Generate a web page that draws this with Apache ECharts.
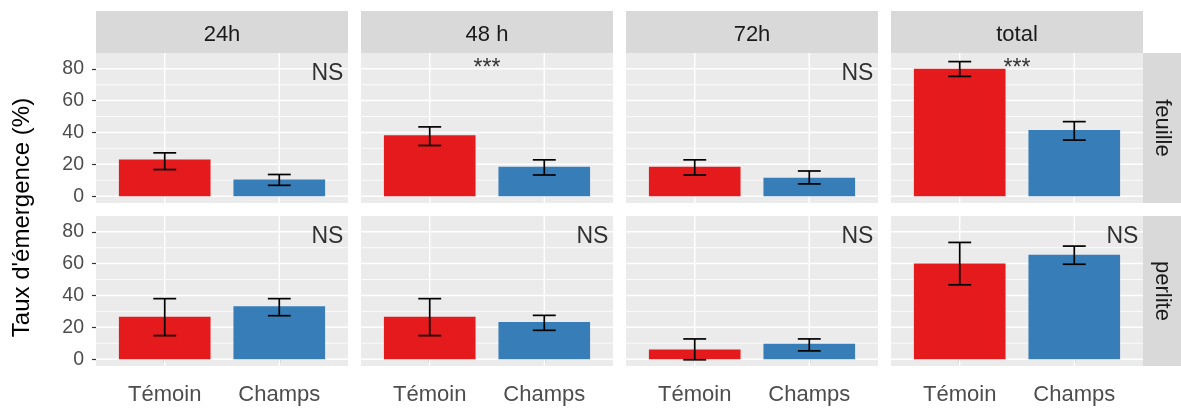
<!DOCTYPE html>
<html>
<head>
<meta charset="utf-8">
<script src="https://cdn.jsdelivr.net/npm/echarts@6/dist/echarts.min.js"></script>
<style>
  html, body { margin: 0; padding: 0; background: #ffffff; }
  #chart { width: 1181px; height: 409px; }
</style>
</head>
<body>
<div id="chart"></div>
<script>
// Facets: columns are periods, rows are substrates
const periods = ['24h', '48 h', '72h', 'total'];
const substrates = ['feuille', 'perlite'];
const treatments = ['Témoin', 'Champs'];

// Emergence rate (%) per period: [Témoin, Champs]
const feuilleMean = [[23.0, 10.5], [38.2, 18.5], [18.5, 11.5], [80.0, 41.5]];
const feuilleLow  = [[16.7, 6.8], [31.8, 13.3], [13.3, 7.7], [75.2, 35.2]];
const feuilleHigh = [[27.2, 13.6], [43.5, 22.8], [22.8, 15.8], [84.5, 46.8]];

const perliteMean = [[26.7, 33.3], [26.7, 23.3], [6.0, 9.6], [60.0, 65.6]];
const perliteLow  = [[14.8, 27.3], [14.8, 18.1], [-0.4, 5.2], [46.7, 59.6]];
const perliteHigh = [[38.0, 38.0], [38.0, 27.5], [12.7, 12.7], [73.3, 71.0]];

// Significance of the Témoin / Champs comparison
const feuilleSig = ['NS', '***', 'NS', '***'];
const perliteSig = ['NS', 'NS', 'NS', 'NS'];

const yTicks = [0, 20, 40, 60, 80];
const yMinor = [10, 30, 50, 70];
const xTicks = [1, 2];

const rows = [
  { mean: feuilleMean, low: feuilleLow, high: feuilleHigh, sig: feuilleSig },
  { mean: perliteMean, low: perliteLow, high: perliteHigh, sig: perliteSig }
];

// ---- layout ----
const FONT = '"Liberation Sans", Arial, sans-serif';
const PANEL_LEFT = 96, PANEL_W = 252, GAP_X = 13;
const PANEL_TOP = 53, PANEL_H = 150, GAP_Y = 13;
const STRIP_TOP = 11, STRIP_H = 42, STRIP_W = 38;
const X_MIN = 0.4, X_MAX = 2.6, Y_MIN = -4.3, Y_MAX = 89.9;
const BAR_W = 0.8 * PANEL_W / (X_MAX - X_MIN);
const COLORS = ['#E41A1C', '#377EB8'];

const colX = c => PANEL_LEFT + c * (PANEL_W + GAP_X);
const rowY = r => PANEL_TOP + r * (PANEL_H + GAP_Y);

const grids = [], xAxes = [], yAxes = [], series = [], graphics = [];

// panel background gridlines: [x, y, kind] kind 0 = major h, 1 = minor h, 2 = vertical
const gridLineData = [];
yTicks.forEach(v => gridLineData.push([1, v, 0]));
yMinor.forEach(v => gridLineData.push([1, v, 1]));
xTicks.forEach(v => gridLineData.push([v, 0, 2]));

rows.forEach((row, r) => {
  periods.forEach((period, c) => {
    const idx = grids.length;
    grids.push({
      left: colX(c), top: rowY(r), width: PANEL_W, height: PANEL_H,
      show: true, backgroundColor: '#EBEBEB', borderWidth: 0
    });
    const bottomRow = r === rows.length - 1;
    const leftCol = c === 0;
    xAxes.push({
      gridIndex: idx, type: 'value', min: X_MIN, max: X_MAX,
      axisLine: { show: false },
      splitLine: { show: false },
      axisTick: { show: bottomRow, customValues: xTicks, length: 4,
                  lineStyle: { color: '#333333', width: 1.2 } },
      axisLabel: { show: bottomRow, customValues: xTicks, margin: 18,
                   fontFamily: FONT, fontSize: 22, color: '#4D4D4D',
                   formatter: v => treatments[Math.round(v) - 1] }
    });
    yAxes.push({
      gridIndex: idx, type: 'value', min: Y_MIN, max: Y_MAX,
      axisLine: { show: false },
      splitLine: { show: false },
      axisTick: { show: leftCol, customValues: yTicks, length: 4,
                  lineStyle: { color: '#333333', width: 1.2 } },
      axisLabel: { show: leftCol, customValues: yTicks, margin: 12,
                   fontFamily: FONT, fontSize: 19.5, color: '#4D4D4D' }
    });

    // white gridlines
    series.push({
      type: 'custom', xAxisIndex: idx, yAxisIndex: idx, z: 1, silent: true,
      data: gridLineData,
      renderItem(params, api) {
        const cs = params.coordSys;
        const kind = api.value(2);
        if (kind === 2) {
          const px = api.coord([api.value(0), 0])[0];
          return { type: 'line', shape: { x1: px, y1: cs.y, x2: px, y2: cs.y + cs.height },
                   style: { stroke: '#FFFFFF', lineWidth: 1.5 } };
        }
        const py = api.coord([1, api.value(1)])[1];
        return { type: 'line', shape: { x1: cs.x, y1: py, x2: cs.x + cs.width, y2: py },
                 style: { stroke: '#FFFFFF', lineWidth: kind === 0 ? 1.5 : 0.8 } };
      }
    });

    // bars
    series.push({
      type: 'bar', xAxisIndex: idx, yAxisIndex: idx, z: 2, barWidth: BAR_W,
      silent: true,
      data: row.mean[c].map((v, i) => ({ value: [i + 1, v], itemStyle: { color: COLORS[i] } }))
    });

    // error bars
    series.push({
      type: 'custom', xAxisIndex: idx, yAxisIndex: idx, z: 3, silent: true,
      encode: { x: 0, y: [1, 2] },
      data: row.mean[c].map((v, i) => [i + 1, row.low[c][i], row.high[c][i]]),
      renderItem(params, api) {
        const x = api.value(0), lo = api.value(1), hi = api.value(2);
        const top = api.coord([x, hi]), bot = api.coord([x, lo]);
        const half = api.coord([x + 0.1, hi])[0] - top[0];
        const st = { stroke: '#000000', lineWidth: 1.7 };
        return { type: 'group', children: [
          { type: 'line', shape: { x1: top[0], y1: top[1], x2: bot[0], y2: bot[1] }, style: st },
          { type: 'line', shape: { x1: top[0] - half, y1: top[1], x2: top[0] + half, y2: top[1] }, style: st },
          { type: 'line', shape: { x1: bot[0] - half, y1: bot[1], x2: bot[0] + half, y2: bot[1] }, style: st }
        ] };
      }
    });

    // significance label
    const sig = row.sig[c];
    const stars = sig !== 'NS';
    series.push({
      type: 'scatter', xAxisIndex: idx, yAxisIndex: idx, z: 4, silent: true,
      symbolSize: 1, itemStyle: { color: 'rgba(0,0,0,0)' },
      data: [stars ? [1.5, 80] : [2.42, 77]],
      label: { show: true, position: 'inside', formatter: sig,
               fontFamily: FONT, fontSize: 23, color: '#000000' }
    });
  });
});

// top strips (periods)
periods.forEach((p, c) => {
  graphics.push({ type: 'rect', shape: { x: colX(c), y: STRIP_TOP, width: PANEL_W, height: STRIP_H },
                  style: { fill: '#D9D9D9' }, silent: true });
  graphics.push({ type: 'text', x: colX(c) + PANEL_W / 2, y: STRIP_TOP + STRIP_H / 2 + 3, silent: true,
                  style: { text: p, align: 'center', verticalAlign: 'middle',
                           font: '22px ' + FONT, fill: '#1A1A1A' } });
});
// right strips (substrates)
const stripX = colX(periods.length - 1) + PANEL_W;
substrates.forEach((s, r) => {
  graphics.push({ type: 'rect', shape: { x: stripX, y: rowY(r), width: STRIP_W, height: PANEL_H },
                  style: { fill: '#D9D9D9' }, silent: true });
  graphics.push({ type: 'text', x: stripX + STRIP_W / 2, y: rowY(r) + PANEL_H / 2, rotation: -Math.PI / 2,
                  silent: true,
                  style: { text: s, align: 'center', verticalAlign: 'middle',
                           font: '22px ' + FONT, fill: '#1A1A1A' } });
});
// y-axis title
graphics.push({ type: 'text', x: 22, y: rowY(0) + (2 * PANEL_H + GAP_Y) / 2 + 8, rotation: Math.PI / 2,
                silent: true,
                style: { text: "Taux d'émergence (%)", align: 'center', verticalAlign: 'middle',
                         font: '24px ' + FONT, fill: '#000000' } });

const chart = echarts.init(document.getElementById('chart'), null, { renderer: 'canvas' });
chart.setOption({
  animation: false,
  backgroundColor: '#FFFFFF',
  grid: grids,
  xAxis: xAxes,
  yAxis: yAxes,
  series: series,
  graphic: { elements: graphics }
});
</script>
</body>
</html>
